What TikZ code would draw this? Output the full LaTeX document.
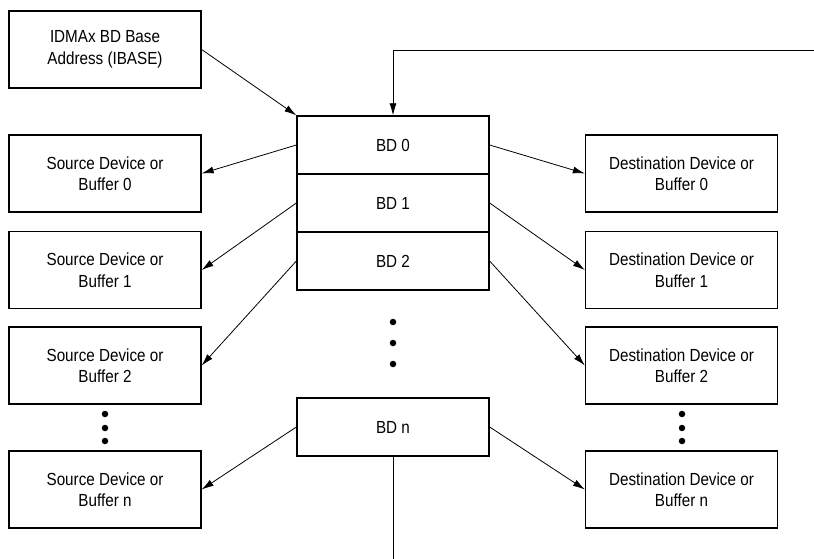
\documentclass[tikz,border=0pt]{standalone}
\usepackage{fontspec}
\setmainfont{Liberation Sans}[FakeStretch=0.87]
\usetikzlibrary{arrows.meta}
\begin{document}
\begin{tikzpicture}[x=1pt,y=-1pt,
  box/.style={draw=black,line width=1.3pt,fill=white,rectangle,minimum width=192pt,inner sep=0pt,align=center,
    font=\fontsize{17.5}{21.5}\selectfont},
  dev/.style={box,minimum height=77pt},
  bd/.style={box,minimum height=58pt},
  conn/.style={line width=0.8pt,-{Latex[length=12pt,width=7pt]}},
  dot/.style={circle,fill=black,inner sep=0pt,minimum size=6.5pt}]
\useasboundingbox (0,0) rectangle (814,559);
\node[dev] (ibase) at (105,49.5) {IDMAx BD Base\\Address (IBASE)};
\node[bd] (bd0) at (393,145) {BD 0};
\node[bd] (bd1) at (393,203) {BD 1};
\node[bd] (bd2) at (393,261) {BD 2};
\node[bd] (bdn) at (393,427) {BD n};
\node[dev] (s0) at (105,173.5) {Source Device or\\Buffer 0};
\node[dev] (s1) at (105,270) {Source Device or\\Buffer 1};
\node[dev] (s2) at (105,365.5) {Source Device or\\Buffer 2};
\node[dev] (sn) at (105,489.5) {Source Device or\\Buffer n};
\node[dev] (d0) at (681.5,173.5) {Destination Device or\\Buffer 0};
\node[dev] (d1) at (681.5,270) {Destination Device or\\Buffer 1};
\node[dev] (d2) at (681.5,365.5) {Destination Device or\\Buffer 2};
\node[dev] (dn) at (681.5,489.5) {Destination Device or\\Buffer n};
\foreach \y [count=\i] in {414,428,441} {
  \node[dot] (ld\i) at (105,\y) {};
  \node[dot] (rd\i) at (682,\y) {};
}
\foreach \y [count=\i] in {322,343,364} {
  \node[dot] (md\i) at (393,\y) {};
}
\coordinate (topin) at (814,50);
\coordinate (botout) at (393,559);
\draw[conn] (ibase.east) -- (bd0.north west);
\draw[conn] (topin) -- (bd0.north |- topin) -- (bd0.north);
\draw[line width=0.8pt] (bdn.south) -- (botout);
\draw[conn] (bd0.west) -- (s0.east);
\draw[conn] (bd1.west) -- (s1.east);
\draw[conn] (bd2.west) -- (s2.east);
\draw[conn] (bdn.west) -- (sn.east);
\draw[conn] (bd0.east) -- (d0.west);
\draw[conn] (bd1.east) -- (d1.west);
\draw[conn] (bd2.east) -- (d2.west);
\draw[conn] (bdn.east) -- (dn.west);
\end{tikzpicture}
\end{document}
